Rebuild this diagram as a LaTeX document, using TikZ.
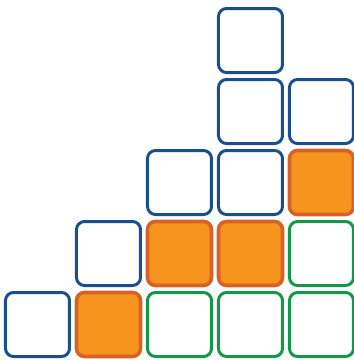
\documentclass[tikz,border=0pt]{standalone}
\definecolor{boxblue}{RGB}{27,79,140}
\definecolor{boxgreen}{RGB}{20,152,72}
\definecolor{boxorange}{RGB}{247,148,30}
\definecolor{boxrust}{RGB}{214,98,42}
\tikzset{
  cell/.style={minimum size=64pt,inner sep=0pt,rounded corners=8pt},
  bluecell/.style={cell,draw=boxblue,line width=3pt,fill=white},
  greencell/.style={cell,draw=boxgreen,line width=3pt,fill=white},
  fullcell/.style={cell,draw=boxrust,line width=3.6pt,fill=boxorange}
}
\begin{document}
\begin{tikzpicture}[x=1pt,y=-1pt]
            \useasboundingbox(0,0)rectangle(354,360);
            % top two rows
            \node[bluecell](a3)at(250.5,40.5){};
            \node[bluecell](b3)at(250.5,111.5){};
            \node[bluecell](b4)at(321.5,111.5){};
            % middle row
            \node[bluecell](c2)at(179.5,182.5){};
            \node[bluecell](c3)at(250.5,182.5){};
            \node[fullcell](c4)at(321.5,182.5){};
            % fourth row
            \node[bluecell](d1)at(108.5,253.5){};
            \node[fullcell](d2)at(179.5,253.5){};
            \node[fullcell](d3)at(250.5,253.5){};
            \node[greencell](d4)at(321.5,253.5){};
            % bottom row
            \node[bluecell](e0)at(37.5,324.5){};
            \node[fullcell](e1)at(108.5,324.5){};
            \node[greencell](e2)at(179.5,324.5){};
            \node[greencell](e3)at(250.5,324.5){};
            \node[greencell](e4)at(321.5,324.5){};
        \end{tikzpicture}
\end{document}
